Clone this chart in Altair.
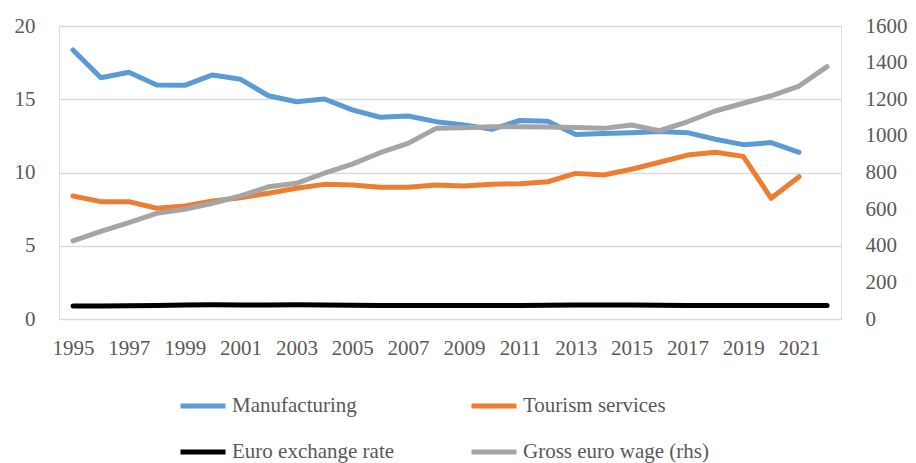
import altair as alt
import pandas as pd

years = list(range(1995, 2023))

manufacturing = [18.36, 16.47, 16.84, 15.97, 15.95, 16.66, 16.36, 15.24, 14.83, 15.02,
                 14.27, 13.77, 13.86, 13.47, 13.25, 12.95, 13.55, 13.50, 12.60, 12.67,
                 12.72, 12.80, 12.72, 12.27, 11.90, 12.04, 11.38, None]
tourism = [8.40, 8.01, 8.01, 7.56, 7.71, 8.05, 8.28, 8.58, 8.92, 9.19,
           9.15, 8.99, 8.99, 9.15, 9.08, 9.20, 9.24, 9.37, 9.94, 9.83,
           10.22, 10.70, 11.19, 11.38, 11.10, 8.24, 9.71, None]
euro_rate = [0.88, 0.89, 0.91, 0.93, 0.96, 0.98, 0.96, 0.95, 0.97, 0.96,
             0.94, 0.93, 0.93, 0.92, 0.93, 0.92, 0.93, 0.94, 0.95, 0.95,
             0.95, 0.94, 0.93, 0.93, 0.92, 0.93, 0.93, 0.93]
wage = [427, 478, 526, 577, 599, 632, 672, 722, 741, 796,
        846, 908, 959, 1041, 1045, 1050, 1050, 1048, 1046, 1041,
        1059, 1028, 1077, 1136, 1178, 1219, 1272, 1378]

# legend fills column by column: col 1 = Manufacturing / Euro, col 2 = Tourism / Wage
series_names = ["Manufacturing", "Euro exchange rate", "Tourism services", "Gross euro wage (rhs)"]
series_colors = ["#5B9BD5", "#000000", "#ED7D31", "#A5A5A5"]
left_series = ["Manufacturing", "Tourism services", "Euro exchange rate"]
right_series = "Gross euro wage (rhs)"
x_labels = list(range(1995, 2022, 2))

rows = []
for name, vals in zip(["Manufacturing", "Tourism services", "Euro exchange rate", right_series],
                      [manufacturing, tourism, euro_rate, wage]):
    for y, v in zip(years, vals):
        if v is not None:
            rows.append({"year": y, "series": name, "value": v})
df = pd.DataFrame(rows)

FONT = "Liberation Serif"
LABEL_COLOR = "#595959"

color = alt.Color(
    "series:N",
    scale=alt.Scale(domain=series_names, range=series_colors),
    legend=alt.Legend(
        title=None,
        orient="none",
        legendX=119,
        legendY=355,
        columns=2,
        symbolType="stroke",
        symbolSize=2025,
        symbolStrokeWidth=5,
        labelFont=FONT,
        labelFontSize=21,
        labelColor=LABEL_COLOR,
        labelOffset=4,
        labelLimit=400,
        columnPadding=66,
        rowPadding=11,
    ),
)

x = alt.X(
    "year:O",
    scale=alt.Scale(padding=0.5),
    axis=alt.Axis(
        title=None,
        values=x_labels,
        labelAngle=0,
        labelFont=FONT,
        labelFontSize=21,
        labelColor=LABEL_COLOR,
        labelPadding=18,
        ticks=False,
        domain=False,
        grid=False,
    ),
)

base = alt.Chart(df)

left = base.transform_filter(
    alt.FieldOneOfPredicate(field="series", oneOf=left_series)
).mark_line(strokeWidth=5, strokeCap="round", strokeJoin="round").encode(
    x=x,
    y=alt.Y(
        "value:Q",
        scale=alt.Scale(domain=[0, 20], nice=False),
        axis=alt.Axis(
            title=None,
            values=[0, 5, 10, 15, 20],
            labelFont=FONT,
            labelFontSize=21,
            labelColor=LABEL_COLOR,
            labelPadding=24,
            ticks=False,
            domain=False,
            grid=True,
            gridColor="#D9D9D9",
            gridWidth=1.5,
        ),
    ),
    color=color,
)

right = base.transform_filter(
    alt.FieldEqualPredicate(field="series", equal=right_series)
).mark_line(strokeWidth=5, strokeCap="round", strokeJoin="round").encode(
    x=x,
    y=alt.Y(
        "value:Q",
        scale=alt.Scale(domain=[0, 1600], nice=False),
        axis=alt.Axis(
            title=None,
            orient="right",
            values=list(range(0, 1601, 200)),
            format="d",
            labelFont=FONT,
            labelFontSize=21,
            labelColor=LABEL_COLOR,
            labelPadding=24,
            ticks=False,
            domain=False,
            grid=False,
        ),
    ),
    color=color,
)

chart = alt.layer(left, right).resolve_scale(y="independent").properties(
    width=782,
    height=293,
    autosize=alt.AutoSizeParams(type="none"),
    padding={"left": 59, "top": 26, "right": 75, "bottom": 144},
).configure_view(stroke=None).configure(background="white")

chart.save("out.html", embed_options={"renderer": "svg", "actions": False})
